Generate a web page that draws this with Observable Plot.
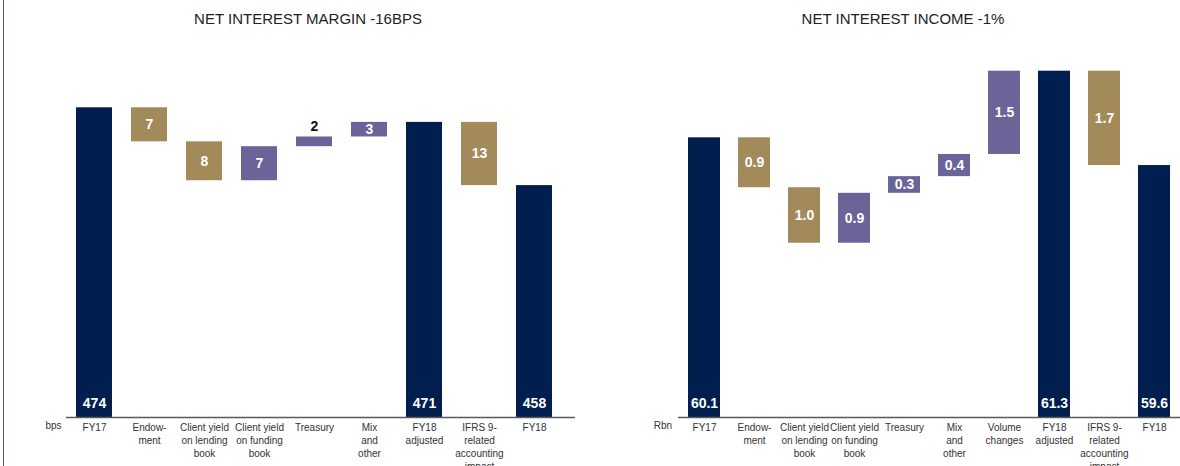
<!DOCTYPE html>
<html><head><meta charset="utf-8">
<script src="https://cdn.jsdelivr.net/npm/d3@7"></script>
<script src="https://cdn.jsdelivr.net/npm/@observablehq/plot@0.6"></script>
<style>
html,body{margin:0;padding:0;background:#fff;overflow:hidden;width:1180px;height:466px;}
body{font-family:"Liberation Sans",Arial,sans-serif;position:relative;}
#wrap{display:flex;}
.panel{width:590px;height:466px;position:relative;overflow:hidden;}
.title{height:36px;line-height:38px;font-size:15px;color:#222;text-align:center;white-space:nowrap;}
#edge{position:absolute;left:3px;top:0;width:1px;height:466px;background:#4a5a92;}
</style></head><body>
<div id="edge"></div>
<div id="wrap">
  <div class="panel" id="p1"><div class="title" style="padding-left:26px">NET INTEREST MARGIN -16BPS</div></div>
  <div class="panel" id="p2"><div class="title" style="padding-left:36px">NET INTEREST INCOME -1%</div></div>
</div>
<script>
// ---- data ----
const nimCategories = ["FY17","Endow-\nment","Client yield\non lending\nbook","Client yield\non funding\nbook","Treasury","Mix\nand\nother","FY18\nadjusted","IFRS 9-\nrelated\naccounting\nimpact","FY18"];
const nimValues = [474, -7, -8, 7, 2, 3, 471, -13, 458];
const nimTypes = ["total","change","change","change","change","change","total","change","total"];
const nimUnit = "bps";

const niiCategories = ["FY17","Endow-\nment","Client yield\non lending\nbook","Client yield\non funding\nbook","Treasury","Mix\nand\nother","Volume\nchanges","FY18\nadjusted","IFRS 9-\nrelated\naccounting\nimpact","FY18"];
const niiValues = [60.1, -0.9, -1.0, 0.9, 0.3, 0.4, 1.5, 61.3, -1.7, 59.6];
const niiTypes = ["total","change","change","change","change","change","change","total","change","total"];
const niiUnit = "Rbn";

const kindDomain = ["total","down","up"];
const kindColors = ["#001e4e","#a38a5b","#6b6498"];

function waterfall(cats, vals, types, base) {
  let run = 0;
  return cats.map((c, i) => {
    const v = vals[i];
    let y1, y2, kind;
    if (types[i] === "total") { y1 = base; y2 = v; run = v; kind = "total"; }
    else { y1 = run; y2 = run + v; run = y2; kind = v < 0 ? "down" : "up"; }
    return {cat: c, value: v, y1, y2, lo: Math.min(y1, y2), hi: Math.max(y1, y2), kind};
  });
}

function chart(o) {
  const data = waterfall(o.cats, o.vals, o.types, o.yDomain[0]);
  const ppu = (o.yRange[0] - o.yRange[1]) / (o.yDomain[1] - o.yDomain[0]);
  const totals = data.filter(d => d.kind === "total");
  const changes = data.filter(d => d.kind !== "total");
  const inside = changes.filter(d => (d.hi - d.lo) * ppu >= 12);
  const outside = changes.filter(d => (d.hi - d.lo) * ppu < 12);
  const lab = {fontWeight: "bold", fontSize: 14};
  return Plot.plot({
    width: 590, height: 430,
    marginLeft: o.marginLeft, marginRight: o.marginRight, marginTop: 0, marginBottom: 49,
    style: {fontFamily: "'Liberation Sans', Arial, sans-serif", fontSize: "10px", color: "#333", background: "transparent"},
    x: {type: "band", domain: o.cats, range: o.xRange, padding: o.padding, align: 0.5, axis: null},
    y: {domain: o.yDomain, range: o.yRange, axis: null},
    color: {domain: kindDomain, range: kindColors},
    marks: [
      Plot.barY(data, {x: "cat", y1: "y1", y2: "y2", fill: "kind"}),
      Plot.ruleY([o.yDomain[0]], {stroke: "#595959", strokeWidth: 1.5}),
      Plot.axisX({tickSize: 0, tickPadding: 4, lineHeight: 1.3, label: null}),
      Plot.text([o.unit], {frameAnchor: "bottom-left", textAnchor: "middle", dx: o.unitDx, dy: 4, lineAnchor: "top"}),
      Plot.text(totals, {x: "cat", y: () => o.yDomain[0], text: d => o.fmt(d.value), dy: -13.7, fill: "white", ...lab}),
      Plot.text(inside, {x: "cat", y: d => (d.y1 + d.y2) / 2, text: d => o.fmt(Math.abs(d.value)), fill: "white", ...lab}),
      Plot.text(outside, {x: "cat", y: "hi", text: d => o.fmt(Math.abs(d.value)), dy: -10, fill: "#111", ...lab})
    ]
  });
}

document.getElementById("p1").appendChild(chart({
  cats: nimCategories, vals: nimValues, types: nimTypes, unit: nimUnit,
  fmt: d3.format("d"),
  yDomain: [410.3, 474], yRange: [381, 71.3],
  xRange: [55.8, 572.2], padding: 0.3534,
  marginLeft: 66, marginRight: 15, unitDx: -13
}));
document.getElementById("p2").appendChild(chart({
  cats: niiCategories, vals: niiValues, types: niiTypes, unit: niiUnit,
  fmt: d3.format(".1f"),
  yDomain: [55.06, 61.3], yRange: [381, 34.7],
  xRange: [79.0, 598.5], padding: 0.3523,
  marginLeft: 88, marginRight: 0, unitDx: -15.5
}));
</script>
</body></html>
